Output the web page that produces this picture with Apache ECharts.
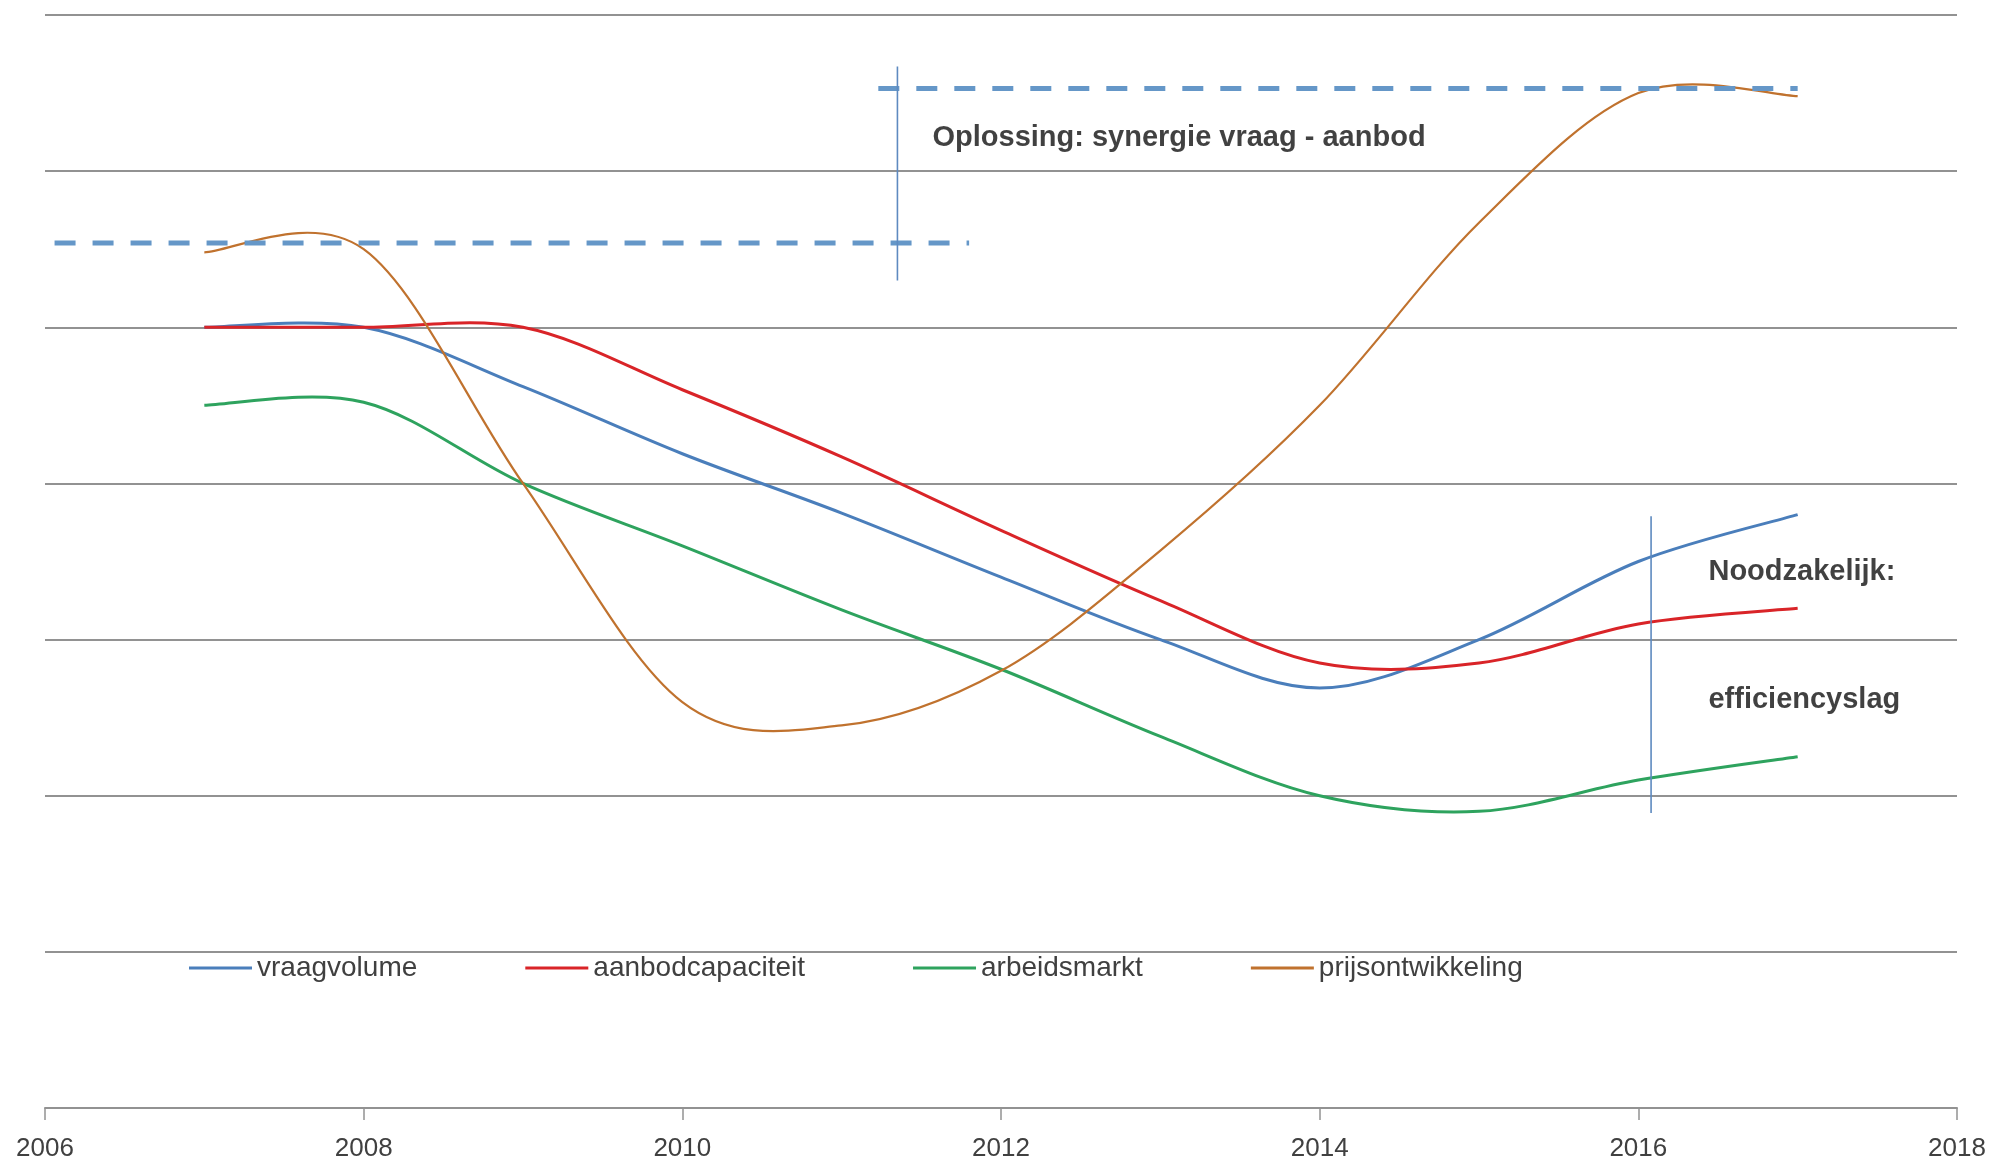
<!DOCTYPE html>
<html>
<head>
<meta charset="utf-8">
<script src="https://cdn.jsdelivr.net/npm/echarts@6/dist/echarts.min.js"></script>
<style>
  html,body{margin:0;padding:0;background:#fff;}
  #chart{width:1997px;height:1162px;}
</style>
</head>
<body>
<div id="chart"></div>
<script>
// yearly values (y axis has no labels, 0..7)
const years = [2007,2008,2009,2010,2011,2012,2013,2014,2015,2016,2017];
const vraagvolume       = [5.0, 5.0, 4.62, 4.19, 3.81, 3.40, 3.0, 2.69, 3.0, 3.5, 3.8];
const aanbodcapaciteit  = [5.0, 5.0, 5.0, 4.6, 4.17, 3.70, 3.25, 2.85, 2.85, 3.10, 3.20];
const arbeidsmarkt      = [4.5, 4.52, 4.0, 3.6, 3.19, 2.81, 2.38, 2.0, 1.9, 2.1, 2.25];
const prijsontwikkeling = [5.48, 5.5, 4.0, 2.6, 2.45, 2.8, 3.57, 4.5, 5.67, 6.5, 6.48];

const xTicks = [2006,2008,2010,2012,2014,2016,2018];

// drawn shapes: dashed levels and the two thin separators
const dashLow  = [[2006.06,5.54],[2011.8,5.54]];
const dashHigh = [[2011.23,6.53],[2017.0,6.53]];
const sepLeft  = [[2011.35,6.67],[2011.35,5.30]];
const sepRight = [[2016.08,3.79],[2016.08,1.89]];

const notes = [
  {name:'Oplossing: synergie vraag - aanbod', value:[2011.57,6.21]},
  {name:'Noodzakelijk:', value:[2016.44,3.43]},
  {name:'efficiencyslag', value:[2016.44,2.61]}
];

const names  = ['vraagvolume','aanbodcapaciteit','arbeidsmarkt','prijsontwikkeling'];
const colors = ['#4a7ebb','#d92428','#2ea35e','#c0722e'];
const lines  = [vraagvolume, aanbodcapaciteit, arbeidsmarkt, prijsontwikkeling];

const pair = (vals)=>years.map((y,i)=>[y, vals[i]]);
const FONT = '"Liberation Sans", Arial, sans-serif';

// spreadsheet-style smoothing (catmull-rom as bezier) through the points, in pixels
function smoothPath(pts){
  let d = 'M' + pts[0][0] + ',' + pts[0][1];
  for(let i=0;i<pts.length-1;i++){
    const p0 = pts[i-1]||pts[i], p1 = pts[i], p2 = pts[i+1], p3 = pts[i+2]||p2;
    const c1 = [p1[0]+(p2[0]-p0[0])/6, p1[1]+(p2[1]-p0[1])/6];
    const c2 = [p2[0]-(p3[0]-p1[0])/6, p2[1]-(p3[1]-p1[1])/6];
    d += ' C' + c1.join(',') + ' ' + c2.join(',') + ' ' + p2.join(',');
  }
  return d;
}

const series = lines.map((vals,i)=>({
  name:names[i], type:'custom', data:pair(vals), encode:{x:0,y:1},
  itemStyle:{color:colors[i]}, z:3, silent:true,
  renderItem:(params, api)=>{
    if(params.dataIndex!==0) return null;
    const pts = pair(vals).map(p=>api.coord(p));
    return {type:'path', shape:{pathData:smoothPath(pts)},
      style:{fill:null, stroke:colors[i], lineWidth: i===3 ? 2.2 : 3}};
  }
}));

const shape = (data, dashed)=>({
  type:'line', data, showSymbol:false, silent:true, z:4,
  lineStyle: dashed
    ? {type:[21,17], width:5, color:'#6597c8'}
    : {type:'solid', width:1.6, color:'#5e8ac0'}
});
series.push(shape(dashLow,true), shape(dashHigh,true), shape(sepLeft,false), shape(sepRight,false));

series.push({
  type:'scatter', data:notes, symbolSize:0, silent:true, z:5,
  label:{show:true, position:'right', distance:0, formatter:p=>p.name,
    fontFamily:FONT, fontSize:29, fontWeight:'bold', color:'#111'}
});

const chart = echarts.init(document.getElementById('chart'));
chart.setOption({
  animation:false,
  backgroundColor:'#fff',
  color:colors,
  grid:{left:45, right:40, top:15, bottom:54},
  legend:{
    data:names, left:189, top:954, padding:0, itemGap:108,
    icon:'rect', itemWidth:63, itemHeight:3,
    textStyle:{fontFamily:FONT, fontSize:28, color:'#404040'}
  },
  xAxis:{
    type:'value', min:2006, max:2018, interval:2,
    axisLine:{lineStyle:{color:'#929292', width:2}},
    axisTick:{show:true, length:12, lineStyle:{color:'#929292', width:1.5}},
    splitLine:{show:false},
    axisLabel:{fontFamily:FONT, fontSize:26, color:'#404040', margin:28,
      formatter:v=>xTicks.includes(v) ? String(v) : ''}
  },
  yAxis:{
    type:'value', min:0, max:7, interval:1,
    axisLine:{show:false}, axisTick:{show:false}, axisLabel:{show:false},
    splitLine:{lineStyle:{color:'#929292', width:2}}
  },
  series
});
</script>
</body>
</html>
